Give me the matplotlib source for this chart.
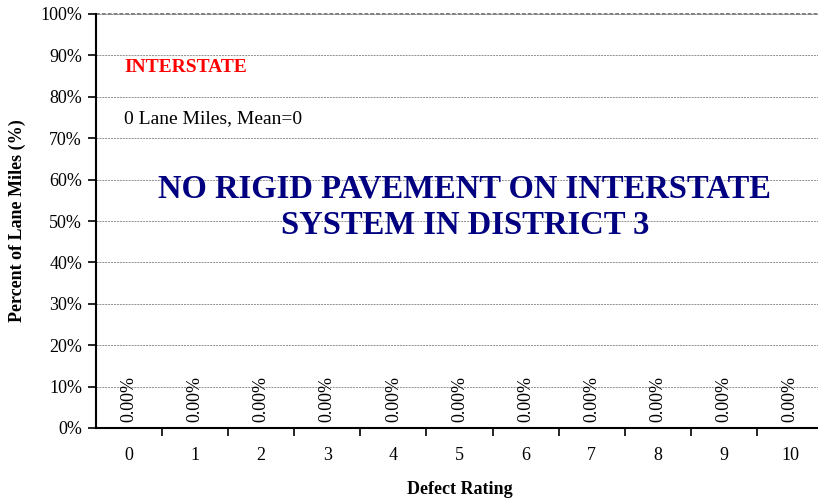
import matplotlib
matplotlib.use("Agg")
import matplotlib.pyplot as plt
from matplotlib.ticker import PercentFormatter, FixedLocator

plt.rcParams['font.family'] = ['Liberation Serif', 'DejaVu Serif']

ratings = [0, 1, 2, 3, 4, 5, 6, 7, 8, 9, 10]
percents = [0.0, 0.0, 0.0, 0.0, 0.0, 0.0, 0.0, 0.0, 0.0, 0.0, 0.0]
y_ticks = [0.0, 0.1, 0.2, 0.3, 0.4, 0.5, 0.6, 0.7, 0.8, 0.9, 1.0]

W, H = 818, 500
fig = plt.figure(figsize=(W / 100, H / 100), dpi=100)
left, right, top, bottom = 96, 823, 14, 428
ax = fig.add_axes([left / W, 1 - bottom / H, (right - left) / W, (bottom - top) / H])

bars = ax.bar(ratings, percents, width=0.6, color="#000080")
ax.bar_label(bars, labels=[f"{v * 100:.2f}%" for v in percents],
             rotation=90, padding=4, fontsize=13)

ax.set_xlim(-0.5, len(ratings) - 0.5)
ax.set_ylim(0, 1)
ax.set_yticks(y_ticks)
ax.yaxis.set_major_formatter(PercentFormatter(1.0, decimals=0))
ax.set_xticks(ratings)
ax.set_xticklabels([str(r) for r in ratings])
ax.tick_params(axis="x", which="major", length=0, pad=14, labelsize=13)
ax.xaxis.set_minor_locator(FixedLocator([r + 0.5 for r in ratings]))
ax.tick_params(axis="x", which="minor", length=6, width=1.2, direction="out")
ax.tick_params(axis="y", length=6, width=1.2, direction="out", labelsize=13, pad=4)

ax.grid(axis="y", linestyle=(0, (2, 1)), color="#909090", linewidth=0.7)
ax.set_axisbelow(True)
for s in ["top", "right"]:
    ax.spines[s].set_visible(False)
for s in ["left", "bottom"]:
    ax.spines[s].set_linewidth(1.5)
ax.axhline(1.0, color="#808080", linewidth=1.4, linestyle=(0, (2, 1)), clip_on=False)

fig.text(17 / W, 1 - 221 / H, "Percent of Lane Miles (%)", rotation=90,
         ha="center", va="center", fontsize=13, fontweight="bold")
fig.text(460 / W, 1 - 489 / H, "Defect Rating", ha="center", va="center",
         fontsize=13, fontweight="bold")

fig.text(124 / W, 1 - 67 / H, "INTERSTATE", color="red", fontsize=14,
         fontweight="bold", ha="left", va="center")
fig.text(124 / W, 1 - 119 / H, "0 Lane Miles, Mean=0", color="black",
         fontsize=14, ha="left", va="center")
fig.text(465 / W, 1 - 207 / H, "NO RIGID PAVEMENT ON INTERSTATE\nSYSTEM IN DISTRICT 3",
         color="#000080", fontsize=23.5, fontweight="bold", ha="center", va="center",
         linespacing=1.22)

fig.savefig("out.png", dpi=100)
